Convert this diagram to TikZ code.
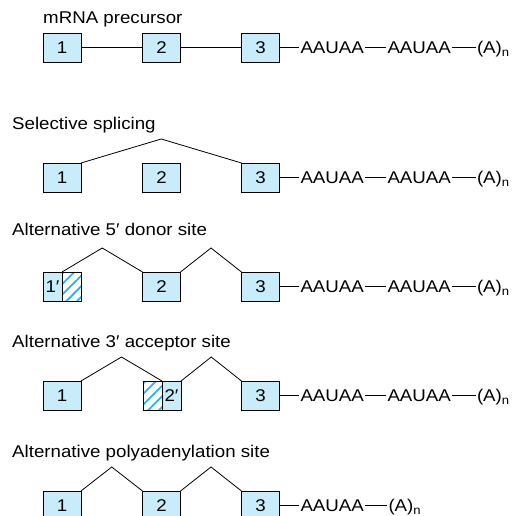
\documentclass[tikz,border=0pt]{standalone}
\usepackage{fontspec}
\setmainfont[FakeStretch=1.1]{Liberation Sans}
\usetikzlibrary{calc, patterns.meta}
\definecolor{exonblue}{RGB}{200,236,250}
\definecolor{hatchblue}{RGB}{40,180,230}

\begin{document}
\begin{tikzpicture}[x=1pt, y=-1pt, font=\fontsize{17}{20}\selectfont,
 exon/.style={draw, line width=0.95pt, fill=exonblue, minimum width=38pt, minimum height=29pt, inner sep=0pt, outer sep=0pt},
 halfexon/.style={exon, minimum width=19pt},
 hatchexon/.style={draw, line width=0.95pt, minimum width=19pt, minimum height=29pt, inner sep=0pt, outer sep=0pt,
   pattern={Lines[angle=45, distance=7.5pt, line width=1.8pt]}, pattern color=hatchblue},
 seq/.style={inner sep=1.5pt, outer sep=0pt},
 lbl/.style={anchor=base west, inner sep=0pt},
 link/.style={line width=0.8pt}]
 \useasboundingbox (0,0) rectangle (517,516);

 % mRNA precursor
 \node[lbl] (l1) at (43,24){mRNA precursor};
 \node[exon] (a1) at (62,47.5){1};
 \node[exon] (a2) at (161.5,47.5){2};
 \node[exon] (a3) at (260.5,47.5){3};
 \node[seq, anchor=west] (a4) at (299,47.5){AAUAA};
 \node[seq, anchor=west] (a5) at (386,47.5){AAUAA};
 \node[seq, anchor=base west] (a6) at (475.5,53.5){(A)\textsubscript{n}};
 \draw[link] (a1) -- (a2) (a2) -- (a3) (a3) -- (a4) (a4) -- (a5) (a5.east) -- (a6.west |- a5.east);

 % selective splicing
 \node[lbl] (l2) at (12,130){Selective splicing};
 \node[exon] (b1) at (62,177.5){1};
 \node[exon] (b2) at (161.5,177.5){2};
 \node[exon] (b3) at (260.5,177.5){3};
 \node[seq, anchor=west] (b4) at (299,177.5){AAUAA};
 \node[seq, anchor=west] (b5) at (386,177.5){AAUAA};
 \node[seq, anchor=base west] (b6) at (475.5,183.5){(A)\textsubscript{n}};
 \draw[link] (b1.north east) -- ($(b1.north east)!.5!(b3.north west)+(0,-24)$) -- (b3.north west);
 \draw[link] (b3) -- (b4) (b4) -- (b5) (b5.east) -- (b6.west |- b5.east);

 % alternative 5' donor site
 \node[lbl] (l3) at (12,235){Alternative 5′ donor site};
 \node[halfexon] (c1) at (52.5,286.5){1′};
 \node[hatchexon] (c1h) at (71.5,286.5){};
 \node[exon] (c2) at (161.5,286.5){2};
 \node[exon] (c3) at (260.5,286.5){3};
 \node[seq, anchor=west] (c4) at (299,286.5){AAUAA};
 \node[seq, anchor=west] (c5) at (386,286.5){AAUAA};
 \node[seq, anchor=base west] (c6) at (475.5,292.5){(A)\textsubscript{n}};
 \draw[link] (c1.north east) -- ($(c1.north east)!.5!(c2.north west)+(0,-24)$) -- (c2.north west);
 \draw[link] (c2.north east) -- ($(c2.north east)!.5!(c3.north west)+(0,-24)$) -- (c3.north west);
 \draw[link] (c3) -- (c4) (c4) -- (c5) (c5.east) -- (c6.west |- c5.east);

 % alternative 3' acceptor site
 \node[lbl] (l4) at (12,347){Alternative 3′ acceptor site};
 \node[exon] (d1) at (62,395.5){1};
 \node[hatchexon] (d2h) at (152.5,395.5){};
 \node[halfexon] (d2) at (171.5,395.5){2′};
 \node[exon] (d3) at (260.5,395.5){3};
 \node[seq, anchor=west] (d4) at (299,395.5){AAUAA};
 \node[seq, anchor=west] (d5) at (386,395.5){AAUAA};
 \node[seq, anchor=base west] (d6) at (475.5,401.5){(A)\textsubscript{n}};
 \draw[link] (d1.north east) -- ($(d1.north east)!.5!(d2.north west)+(0,-24)$) -- (d2.north west);
 \draw[link] (d2.north east) -- ($(d2.north east)!.5!(d3.north west)+(0,-24)$) -- (d3.north west);
 \draw[link] (d3) -- (d4) (d4) -- (d5) (d5.east) -- (d6.west |- d5.east);

 % alternative polyadenylation site
 \node[lbl] (l5) at (12,457){Alternative polyadenylation site};
 \node[exon] (e1) at (62,505.5){1};
 \node[exon] (e2) at (161.5,505.5){2};
 \node[exon] (e3) at (260.5,505.5){3};
 \node[seq, anchor=west] (e4) at (299,505.5){AAUAA};
 \node[seq, anchor=base west] (e5) at (387,511.5){(A)\textsubscript{n}};
 \draw[link] (e1.north east) -- ($(e1.north east)!.5!(e2.north west)+(0,-24)$) -- (e2.north west);
 \draw[link] (e2.north east) -- ($(e2.north east)!.5!(e3.north west)+(0,-24)$) -- (e3.north west);
 \draw[link] (e3) -- (e4) (e4.east) -- (e5.west |- e4.east);
\end{tikzpicture}
\end{document}
